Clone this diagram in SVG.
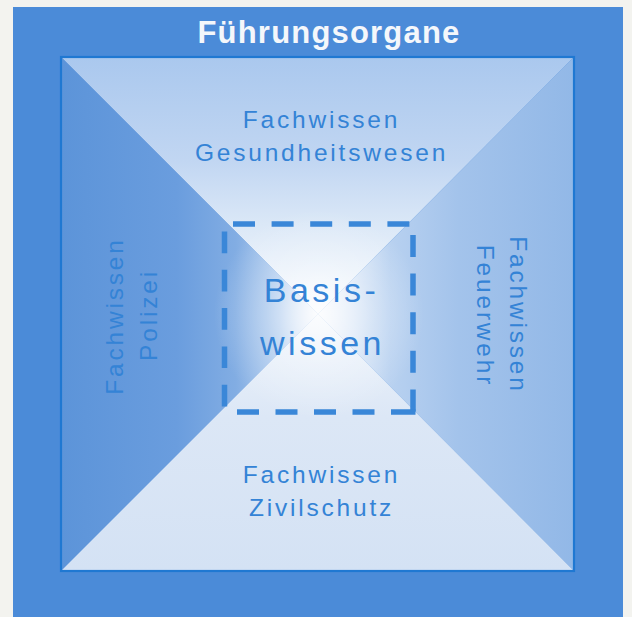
<svg xmlns="http://www.w3.org/2000/svg" width="632" height="617" viewBox="0 0 632 617">
  <defs>
    <linearGradient id="gTop" gradientUnits="userSpaceOnUse" x1="0" y1="57" x2="0" y2="315">
      <stop offset="0" stop-color="#aac8ee"/>
      <stop offset="0.4" stop-color="#c1d6f2"/>
      <stop offset="0.65" stop-color="#dbe8f7"/>
      <stop offset="1" stop-color="#f6f9fd"/>
    </linearGradient>
    <linearGradient id="gLeft" gradientUnits="userSpaceOnUse" x1="61" y1="0" x2="318" y2="0">
      <stop offset="0" stop-color="#5c94d9"/>
      <stop offset="0.45" stop-color="#6a9dde"/>
      <stop offset="0.68" stop-color="#82ade3"/>
      <stop offset="0.85" stop-color="#adcaee"/>
      <stop offset="1" stop-color="#f2f6fc"/>
    </linearGradient>
    <linearGradient id="gRight" gradientUnits="userSpaceOnUse" x1="574" y1="0" x2="318" y2="0">
      <stop offset="0" stop-color="#92b8e7"/>
      <stop offset="0.45" stop-color="#a3c3eb"/>
      <stop offset="0.72" stop-color="#b8d1f0"/>
      <stop offset="1" stop-color="#f2f6fc"/>
    </linearGradient>
    <linearGradient id="gBottom" gradientUnits="userSpaceOnUse" x1="0" y1="571" x2="0" y2="315">
      <stop offset="0" stop-color="#d4e2f4"/>
      <stop offset="0.6" stop-color="#dce7f6"/>
      <stop offset="1" stop-color="#eef4fb"/>
    </linearGradient>
    <radialGradient id="gGlow" gradientUnits="userSpaceOnUse" cx="319" cy="314" r="105">
      <stop offset="0" stop-color="#ffffff" stop-opacity="0.75"/>
      <stop offset="0.5" stop-color="#ffffff" stop-opacity="0.3"/>
      <stop offset="1" stop-color="#ffffff" stop-opacity="0"/>
    </radialGradient>
  </defs>
  <style>
    .lbl { font-family: "Liberation Sans", Arial, sans-serif; font-size: 24.5px; letter-spacing: 2.8px; fill: #3483d6; text-anchor: middle; }
    .big { font-family: "Liberation Sans", Arial, sans-serif; font-size: 34px; letter-spacing: 3.5px; fill: #3483d6; text-anchor: middle; }
    .title { font-family: "Liberation Sans", Arial, sans-serif; font-size: 31px; font-weight: bold; letter-spacing: 1.2px; fill: #f4f7fb; text-anchor: middle; }
    .dash { stroke: #3a87d8; stroke-width: 5.5; fill: none; }
  </style>
  <rect x="0" y="0" width="632" height="617" fill="#f3f3ef"/>
  <rect x="13" y="7" width="610" height="610" fill="#4b8bd8"/>
  <g id="title">
    <text class="title" x="329" y="43">Führungsorgane</text>
  </g>
  <g id="pyramid">
    <polygon id="top" points="61,57 574,57 318,314" fill="url(#gTop)"/>
    <polygon id="left" points="61,57 318,314 61,571" fill="url(#gLeft)"/>
    <polygon id="right" points="574,57 574,571 318,314" fill="url(#gRight)"/>
    <polygon id="bottom" points="61,571 318,314 574,571" fill="url(#gBottom)"/>
    <rect x="61" y="57" width="513" height="514" fill="url(#gGlow)"/>
    <rect x="61" y="57" width="513" height="514" fill="none" stroke="#1f78d2" stroke-width="2.2"/>
  </g>
  <g id="node-top">
    <text class="lbl" x="321.5" y="128">Fachwissen</text>
    <text class="lbl" x="321.5" y="161">Gesundheitswesen</text>
  </g>
  <g id="node-bottom">
    <text class="lbl" x="321.5" y="483">Fachwissen</text>
    <text class="lbl" x="321.5" y="516">Zivilschutz</text>
  </g>
  <g id="node-left">
    <text class="lbl" transform="translate(123,316) rotate(-90)" x="0" y="0">Fachwissen</text>
    <text class="lbl" transform="translate(157,315) rotate(-90)" x="0" y="0">Polizei</text>
  </g>
  <g id="node-right">
    <text class="lbl" transform="translate(510,315) rotate(90)" x="0" y="0">Fachwissen</text>
    <text class="lbl" transform="translate(477,316) rotate(90)" x="0" y="0">Feuerwehr</text>
  </g>
  <g id="node-center">
    <g id="connectors" class="dash">
      <line x1="233" y1="224" x2="409.5" y2="224" stroke-dasharray="22 16.6"/>
      <line x1="224.5" y1="231.5" x2="224.5" y2="407" stroke-dasharray="21.7 16.6"/>
      <line x1="413" y1="235" x2="413" y2="412" stroke-dasharray="22 16.6"/>
      <line x1="237" y1="412" x2="415.5" y2="412" stroke-dasharray="22 16.5 22 16.5 22 16.5 22 16.5 24.5 10"/>
    </g>
    <text class="big" x="321.5" y="302">Basis-</text>
    <text class="big" x="322.5" y="355">wissen</text>
  </g>
</svg>
